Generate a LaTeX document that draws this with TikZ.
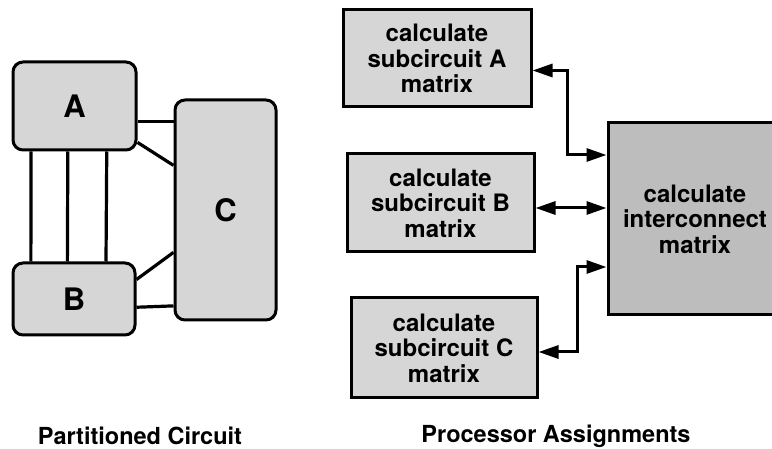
\documentclass[tikz,border=0pt]{standalone}
\usepackage{fontspec}
\setmainfont{TeX Gyre Heros}
\usepackage{xcolor}
\usepackage{tikz}
\usetikzlibrary{arrows.meta, positioning, calc}
\definecolor{abumuda}{gray}{0.84}
\definecolor{abutua}{gray}{0.74}

\begin{document}
\begin{tikzpicture}[
    x=1pt, y=-1pt,
    bagian/.style={draw, line width=3pt, rounded corners=10pt, fill=abumuda, inner sep=0pt,
                   font=\fontsize{31}{33}\selectfont\bfseries},
    proses/.style={draw, line width=3pt, fill=abumuda, inner sep=0pt, align=center,
                   font=\fontsize{24}{25.5}\selectfont\bfseries},
    garis/.style={line width=3.2pt},
    panah/.style={{Triangle[length=20pt,width=13pt]}-{Triangle[length=20pt,width=13pt]}, line width=3pt},
    judul/.style={inner sep=1pt, font=\fontsize{23.5}{25}\selectfont\bfseries}
  ]
    \useasboundingbox (0,0) rectangle (772,449);
    \clip (0,0) rectangle (772,449);

    \node[bagian, minimum width=123pt, minimum height=88pt] (A) at (74.5,106) {A};
    \node[bagian, minimum width=122pt, minimum height=72pt] (B) at (74,299) {B};
    \node[bagian, minimum width=101pt, minimum height=220pt] (C) at (225.5,210) {C};

    \foreach \f in {0.155,0.447,0.756}
      \draw[garis] ($(A.south west)!\f!(A.south east)$) -- ($(B.north west)!\f!(B.north east)$);
    \draw[garis] ($(A.north east)!0.67!(A.south east)$) coordinate (ac) -- (C.west |- ac);
    \draw[garis] ($(A.north east)!0.9!(A.south east)$) -- ($(C.north west)!0.30!(C.south west)$);
    \draw[garis] ($(B.north east)!0.24!(B.south east)$) -- ($(C.north west)!0.69!(C.south west)$);
    \draw[garis] ($(B.north east)!0.61!(B.south east)$) -- ($(C.north west)!0.93!(C.south west)$);

    \node[proses, minimum width=188pt, minimum height=97pt] (subA) at (437,58.5)
      {calculate\\subcircuit A\\matrix};
    \node[proses, minimum width=187pt, minimum height=98pt] (subB) at (440.5,203)
      {calculate\\subcircuit B\\matrix};
    \node[proses, minimum width=186pt, minimum height=100pt] (subC) at (444,348)
      {calculate\\subcircuit C\\matrix};
    \node[proses, fill=abutua, minimum width=174pt, minimum height=192pt] (inter) at (695,219)
      {calculate\\interconnect\\matrix};

    \coordinate (ka) at (567,155);
    \coordinate (kb) at (0,208);
    \coordinate (kc) at (577,267);
    \coordinate (kc0) at (0,352);
    \draw[panah] ($(subA.north east)!0.62!(subA.south east)$) -| (ka) -- (inter.west |- ka);
    \draw[panah] (subB.east |- kb) -- (inter.west |- kb);
    \draw[panah] (subC.east |- kc0) -| (kc) -- (inter.west |- kc);

    \node[judul] (judulkiri) at (140,436) {Partitioned Circuit};
    \node[judul] (judulkanan) at (556,436) {Processor Assignments};
  \end{tikzpicture}
\end{document}
